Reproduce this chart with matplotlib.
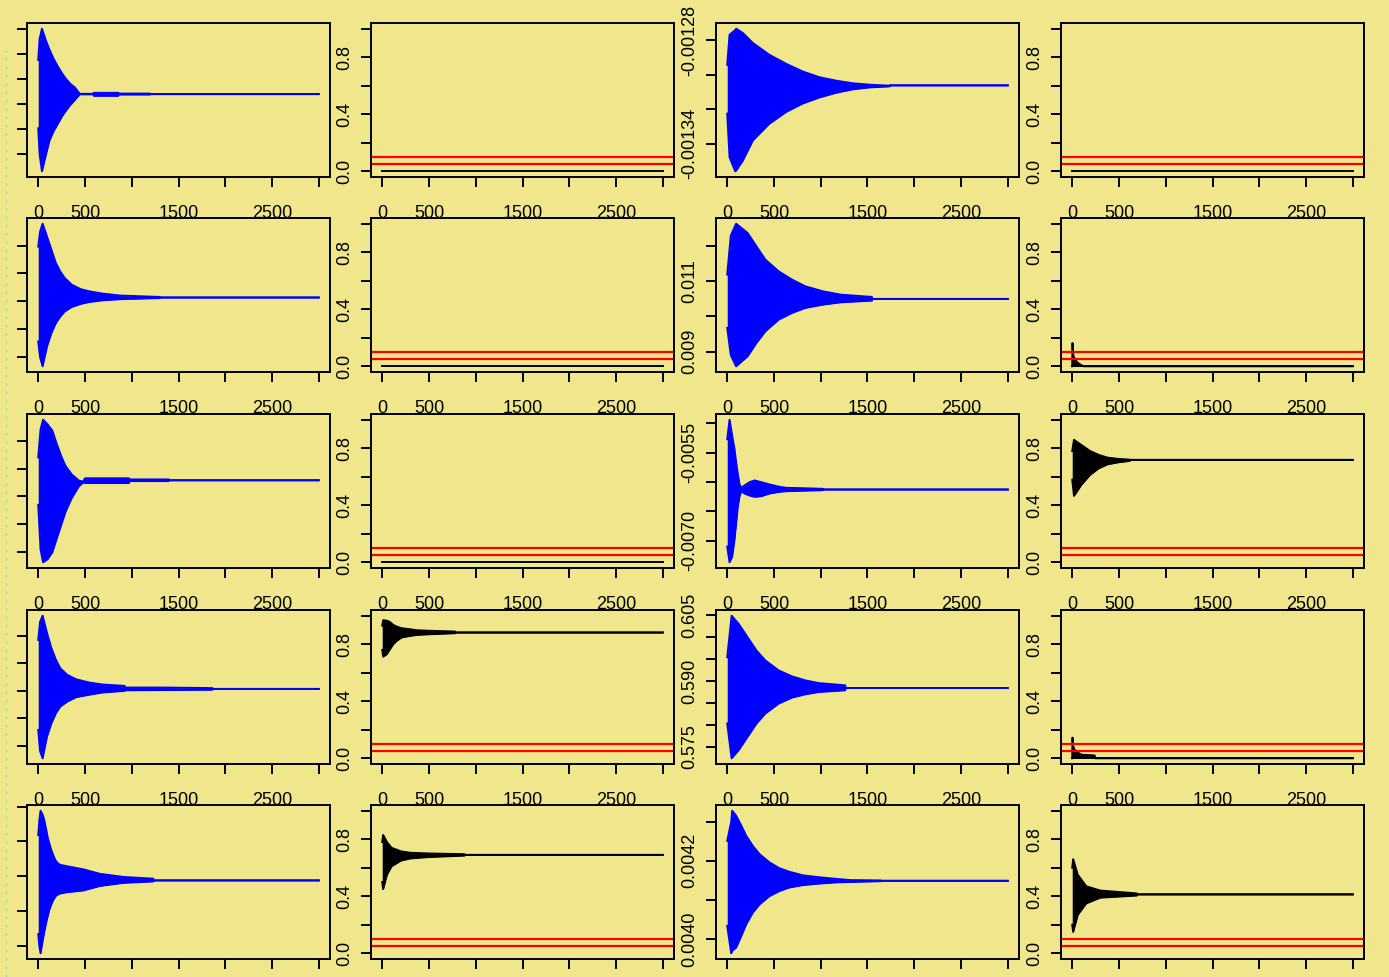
import matplotlib
matplotlib.use("Agg")
import matplotlib.pyplot as plt
from matplotlib.lines import Line2D

plt.rcParams['font.family'] = ['Liberation Sans', 'DejaVu Sans']

# x axis shared by every panel
x_ticks = [0, 500, 1000, 1500, 2000, 2500, 3000]
x_labels = ['0', '500', '', '1500', '', '2500', '']

# red reference lines in the probability panels
ref_levels = [0.05, 0.10]

# ---- column 1 (blue traces, y labels fall off the page; values in tick units)
r0c0_x = [0, 15, 40, 80, 121, 165, 211, 255, 300, 345, 390, 444, 590, 595, 855, 860, 1195, 1200, 3000]
r0c0_hi = [3.76, 4.6, 5.0, 4.55, 4.16, 3.80, 3.49, 3.22, 2.99, 2.80, 2.67, 2.41, 2.41, 2.45, 2.45, 2.42,
           2.42, 2.40, 2.40]
r0c0_lo = [1.04, 0.0, -0.67, -0.05, 0.56, 0.93, 1.23, 1.52, 1.76, 1.98, 2.16, 2.39, 2.39, 2.33, 2.33, 2.38,
           2.38, 2.40, 2.40]
r0c0_ticks = [0, 1, 2, 3, 4, 5]

r1c0_x = [0, 20, 47, 94, 141, 189, 236, 283, 358, 453, 547, 688, 877, 1301, 1305, 3000]
r1c0_hi = [3.96, 4.5, 4.78, 4.32, 3.85, 3.37, 3.07, 2.84, 2.60, 2.44, 2.36, 2.28, 2.21, 2.16, 2.14, 2.14]
r1c0_lo = [0.57, 0.0, -0.32, 0.39, 0.87, 1.23, 1.46, 1.64, 1.80, 1.91, 1.98, 2.04, 2.08, 2.12, 2.14, 2.14]
r1c0_ticks = [0, 1, 2, 3, 4]

r2c0_x = [0, 25, 52, 100, 151, 198, 245, 292, 358, 434, 481, 500, 970, 975, 1395, 1400, 3000]
r2c0_hi = [3.40, 4.4, 4.75, 4.58, 4.36, 3.88, 3.45, 3.09, 2.79, 2.57, 2.53, 2.65, 2.65, 2.61, 2.61, 2.58, 2.58]
r2c0_lo = [1.70, 0.1, -0.36, -0.25, 0.0, 0.49, 0.97, 1.45, 1.94, 2.36, 2.50, 2.48, 2.48, 2.55, 2.55, 2.58, 2.58]
r2c0_ticks = [0, 1, 2, 3, 4]

r3c0_x = [0, 20, 47, 94, 141, 189, 236, 311, 405, 547, 688, 924, 930, 1348, 1862, 1867, 3000]
r3c0_hi = [3.84, 4.5, 4.72, 4.09, 3.54, 3.12, 2.81, 2.57, 2.41, 2.29, 2.22, 2.17, 2.11, 2.11, 2.09, 2.06, 2.06]
r3c0_lo = [0.57, -0.2, -0.46, 0.33, 0.81, 1.18, 1.42, 1.60, 1.76, 1.85, 1.93, 1.99, 2.01, 2.02, 2.03, 2.06, 2.06]
r3c0_ticks = [0, 1, 2, 3, 4]

r4c0_x = [0, 12, 25, 50, 68, 86, 104, 121, 140, 157, 175, 193, 229, 301, 479, 658, 909, 1231, 1236, 3000]
r4c0_hi = [3.18, 3.6, 3.88, 3.75, 3.57, 3.33, 3.08, 2.92, 2.75, 2.63, 2.51, 2.42, 2.33, 2.29, 2.20, 2.07, 1.98,
           1.93, 1.88, 1.88]
r4c0_lo = [0.34, 0.0, -0.21, 0.19, 0.45, 0.68, 0.88, 1.06, 1.19, 1.30, 1.38, 1.45, 1.50, 1.54, 1.59, 1.72, 1.81,
           1.85, 1.88, 1.88]
r4c0_ticks = [0, 1, 2, 3, 4]

# ---- column 3 (blue traces with labelled y axis)
r0c2_x = [0, 25, 86, 96, 167, 274, 452, 631, 809, 987, 1166, 1344, 1522, 1736, 1740, 3000]
r0c2_hi = [-0.0012942, -0.0012767, -0.0012740, -0.0012732, -0.0012757, -0.0012815, -0.0012884, -0.0012936,
           -0.0012981, -0.0013014, -0.0013034, -0.0013049, -0.0013057, -0.0013063, -0.0013061, -0.0013061]
r0c2_lo = [-0.0013225, -0.0013479, -0.0013560, -0.0013555, -0.0013498, -0.0013381, -0.0013283, -0.0013215,
           -0.0013166, -0.0013131, -0.0013104, -0.0013084, -0.0013073, -0.0013067, -0.0013061, -0.0013061]
r0c2_ticks = [-0.00134, -0.00132, -0.00130, -0.00128]
r0c2_labels = ['-0.00134', '', '', '-0.00128']

r1c2_x = [0, 38, 95, 218, 313, 408, 550, 693, 835, 1025, 1215, 1547, 1552, 3000]
r1c2_hi = [0.011191, 0.0123, 0.012642, 0.012378, 0.011996, 0.011618, 0.011285, 0.011048, 0.010858,
           0.010715, 0.010621, 0.010556, 0.010499, 0.010499]
r1c2_lo = [0.009673, 0.0089, 0.008580, 0.008865, 0.009247, 0.009577, 0.009910, 0.010100, 0.010243,
           0.010337, 0.010402, 0.010451, 0.010499, 0.010499]
r1c2_ticks = [0.009, 0.010, 0.011, 0.012]
r1c2_labels = ['0.009', '', '0.011', '']

r2c2_x = [0, 25, 53, 78, 96, 114, 132, 150, 185, 239, 292, 363, 452, 559, 631, 1023, 1028, 3000]
r2c2_hi = [-0.005272, -0.004940, -0.005215, -0.005443, -0.005672, -0.005872, -0.006044, -0.006101, -0.006061,
           -0.006005, -0.005975, -0.006005, -0.006044, -0.006084, -0.006101, -0.006118, -0.00613, -0.00613]
r2c2_lo = [-0.007103, -0.007371, -0.007275, -0.006988, -0.006702, -0.006417, -0.006245, -0.006159, -0.006199,
           -0.006233, -0.006255, -0.006245, -0.006199, -0.006170, -0.006159, -0.006142, -0.00613, -0.00613]
r2c2_ticks = [-0.0070, -0.0065, -0.0060, -0.0055, -0.0050]
r2c2_labels = ['-0.0070', '', '', '-0.0055', '']

r3c2_x = [0, 47, 123, 218, 313, 408, 550, 693, 835, 977, 1262, 1267, 3000]
r3c2_hi = [0.59546, 0.60491, 0.60303, 0.59999, 0.59698, 0.59471, 0.59245, 0.59109, 0.59018, 0.58957,
           0.58905, 0.58844, 0.58844]
r3c2_lo = [0.58037, 0.57244, 0.57432, 0.57734, 0.58037, 0.58264, 0.58490, 0.58626, 0.58701, 0.58753,
           0.58792, 0.58844, 0.58844]
r3c2_ticks = [0.575, 0.580, 0.585, 0.590, 0.595, 0.600, 0.605]
r3c2_labels = ['0.575', '', '', '0.590', '', '', '0.605']

r4c2_x = [0, 43, 53, 96, 150, 203, 274, 346, 452, 559, 666, 809, 987, 1166, 1308, 1647, 1652, 3000]
r4c2_hi = [0.004251, 0.0043, 0.004328, 0.004315, 0.004290, 0.004264, 0.004238, 0.004217, 0.004196,
           0.004181, 0.004172, 0.004163, 0.004158, 0.004154, 0.004151, 0.004150, 0.004149, 0.004149]
r4c2_lo = [0.004034, 0.003964, 0.00397, 0.003979, 0.004008, 0.004038, 0.004068, 0.004089, 0.004110,
           0.004123, 0.004132, 0.004138, 0.004142, 0.004145, 0.004146, 0.004148, 0.004149, 0.004149]
r4c2_ticks = [0.0040, 0.0041, 0.0042, 0.0043]
r4c2_labels = ['0.0040', '', '0.0042', '']

# ---- columns 2 and 4 (black traces on 0..1 scale)
flat_x = [0, 3000]
flat_y = [0.0, 0.0]

r1c3_x = [0, 3, 8, 20, 50, 80, 120, 3000]
r1c3_hi = [0.0, 0.163, 0.09, 0.06, 0.03, 0.015, 0.0, 0.0]
r1c3_lo = [0.0, 0.0, 0.0, 0.0, 0.0, 0.0, 0.0, 0.0]

r2c3_x = [0, 19, 95, 189, 284, 378, 492, 615, 620, 3000]
r2c3_hi = [0.78, 0.859, 0.824, 0.781, 0.753, 0.734, 0.725, 0.720, 0.718, 0.718]
r2c3_lo = [0.58, 0.466, 0.541, 0.612, 0.659, 0.687, 0.701, 0.711, 0.718, 0.718]

r3c1_x = [0, 11, 47, 64, 82, 100, 118, 154, 207, 296, 368, 510, 778, 783, 3000]
r3c1_hi = [0.93, 0.969, 0.965, 0.962, 0.955, 0.946, 0.935, 0.924, 0.912, 0.905, 0.898, 0.894, 0.889, 0.882,
           0.882]
r3c1_lo = [0.76, 0.713, 0.729, 0.745, 0.764, 0.782, 0.800, 0.823, 0.847, 0.858, 0.865, 0.870, 0.877, 0.882,
           0.882]

r3c3_x = [0, 3, 8, 25, 60, 100, 240, 245, 3000]
r3c3_hi = [0.0, 0.145, 0.09, 0.06, 0.04, 0.025, 0.02, 0.0, 0.0]
r3c3_lo = [0.0, 0.0, 0.0, 0.0, 0.0, 0.0, 0.0, 0.0, 0.0]

r4c1_x = [0, 10, 50, 100, 200, 300, 500, 880, 885, 3000]
r4c1_hi = [0.78, 0.83, 0.78, 0.74, 0.715, 0.705, 0.70, 0.695, 0.69, 0.69]
r4c1_lo = [0.50, 0.45, 0.55, 0.61, 0.65, 0.665, 0.675, 0.685, 0.69, 0.69]

r4c3_x = [0, 10, 60, 150, 300, 690, 695, 3000]
r4c3_hi = [0.60, 0.66, 0.55, 0.47, 0.44, 0.42, 0.413, 0.413]
r4c3_lo = [0.20, 0.15, 0.27, 0.35, 0.39, 0.405, 0.413, 0.413]

prob_ticks = [0.0, 0.2, 0.4, 0.6, 0.8, 1.0]
prob_labels = ['0.0', '', '0.4', '', '0.8', '']

W, H = 1389, 977
col_left = [27, 371, 716, 1061]
row_top = [23, 218, 414, 610, 805]
box_w, box_h = 303, 154

fig = plt.figure(figsize=(W / 100, H / 100), dpi=100)
fig.patch.set_facecolor('#f0e68c')


def make_axes(r, c):
    ax = fig.add_axes([col_left[c] / W, 1 - (row_top[r] + box_h) / H, box_w / W, box_h / H])
    ax.set_facecolor('#f0e68c')
    for s in ax.spines.values():
        s.set_linewidth(1.4)
    ax.set_xlim(-120, 3120)
    ax.set_xticks(x_ticks)
    # the bottom row's labels would land below the page edge
    ax.set_xticklabels(x_labels if r < 4 else [''] * len(x_ticks))
    ax.tick_params(axis='x', direction='out', length=7, width=1.4, pad=13, labelsize=13)
    ax.tick_params(axis='y', direction='out', length=7, width=1.4, pad=6, labelsize=13,
                   labelrotation=90)
    return ax


def r_ylim(ax, hi, lo):
    top, bot = max(hi), min(lo)
    pad = 0.04 * (top - bot)
    ax.set_ylim(bot - pad, top + pad)


def trace(ax, x, hi, lo, color):
    ax.fill_between(x, lo, hi, color=color, lw=0)
    ax.plot(x, hi, color=color, lw=1.4)
    ax.plot(x, lo, color=color, lw=1.4)


blue_left = [(r0c0_x, r0c0_hi, r0c0_lo, r0c0_ticks), (r1c0_x, r1c0_hi, r1c0_lo, r1c0_ticks),
             (r2c0_x, r2c0_hi, r2c0_lo, r2c0_ticks), (r3c0_x, r3c0_hi, r3c0_lo, r3c0_ticks),
             (r4c0_x, r4c0_hi, r4c0_lo, r4c0_ticks)]
blue_right = [(r0c2_x, r0c2_hi, r0c2_lo, r0c2_ticks, r0c2_labels),
              (r1c2_x, r1c2_hi, r1c2_lo, r1c2_ticks, r1c2_labels),
              (r2c2_x, r2c2_hi, r2c2_lo, r2c2_ticks, r2c2_labels),
              (r3c2_x, r3c2_hi, r3c2_lo, r3c2_ticks, r3c2_labels),
              (r4c2_x, r4c2_hi, r4c2_lo, r4c2_ticks, r4c2_labels)]
# panels not listed here only have a flat line at zero
black_traces = {
    (1, 3): (r1c3_x, r1c3_hi, r1c3_lo),
    (2, 3): (r2c3_x, r2c3_hi, r2c3_lo),
    (3, 1): (r3c1_x, r3c1_hi, r3c1_lo),
    (3, 3): (r3c3_x, r3c3_hi, r3c3_lo),
    (4, 1): (r4c1_x, r4c1_hi, r4c1_lo),
    (4, 3): (r4c3_x, r4c3_hi, r4c3_lo),
}

for r in range(5):
    # blue panel, unlabelled y axis
    x, hi, lo, ticks = blue_left[r]
    ax = make_axes(r, 0)
    trace(ax, x, hi, lo, 'blue')
    r_ylim(ax, hi, lo)
    ax.set_yticks(ticks)
    ax.tick_params(axis='y', labelleft=False)

    # blue panel with labels
    x, hi, lo, ticks, labels = blue_right[r]
    ax = make_axes(r, 2)
    trace(ax, x, hi, lo, 'blue')
    r_ylim(ax, hi, lo)
    ax.set_yticks(ticks)
    ax.set_yticklabels(labels, va='center')

    # black probability panels
    for c in (1, 3):
        ax = make_axes(r, c)
        if (r, c) in black_traces:
            x, hi, lo = black_traces[(r, c)]
            trace(ax, x, hi, lo, 'black')
        else:
            ax.plot(flat_x, flat_y, color='black', lw=1.4)
        for lev in ref_levels:
            ax.axhline(lev, color='red', lw=1.6)
        ax.set_ylim(-0.04, 1.04)
        ax.set_yticks(prob_ticks)
        ax.set_yticklabels(prob_labels, va='center')

# faint dashed line at the left edge
fig.add_artist(Line2D([6 / W, 6 / W], [0, 1 - 50 / H], transform=fig.transFigure,
                      color='#9ee09e', ls=(0, (2, 4)), lw=1))

fig.savefig('out.png', dpi=100, facecolor=fig.get_facecolor())
